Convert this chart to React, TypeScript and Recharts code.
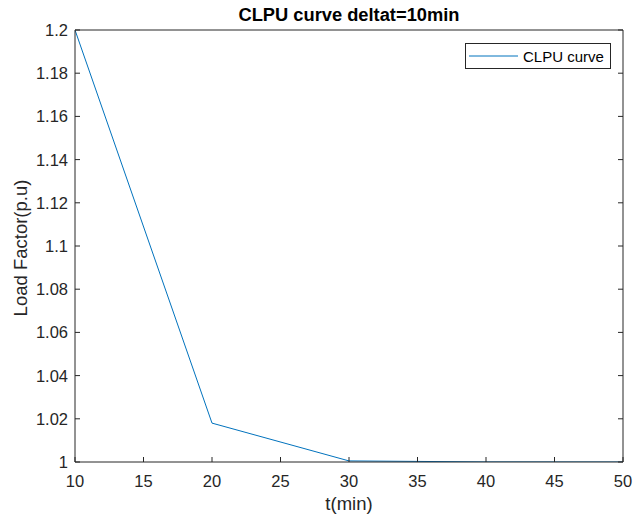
import { Legend, Line, LineChart, XAxis, YAxis } from 'recharts';

// CLPU load factor sampled every 10 minutes
const times = [10, 20, 30, 40, 50];
const loadFactor = [1.2, 1.018, 1.0005, 1.00003, 1.0];

const xTicks = [10, 15, 20, 25, 30, 35, 40, 45, 50];
const yTicks = [1, 1.02, 1.04, 1.06, 1.08, 1.1, 1.12, 1.14, 1.16, 1.18, 1.2];

const data = times.map((t, i) => ({ t, y: loadFactor[i] }));

const AXIS = '#262626';
const LINE = '#0072BD';
const FONT = '"Liberation Sans", Arial, Helvetica, sans-serif';
const TICK_LEN = 5;

const BottomTick = ({ x, y, payload }: any) => (
  <g>
    <line x1={x} y1={y} x2={x} y2={y - TICK_LEN} stroke={AXIS} />
    <text x={x} y={y + 25} textAnchor="middle" fill={AXIS} fontSize={16.5} fontFamily={FONT}>
      {payload.value}
    </text>
  </g>
);

const TopTick = ({ x, y }: any) => (
  <line x1={x} y1={y} x2={x} y2={y + TICK_LEN} stroke={AXIS} />
);

const LeftTick = ({ x, y, payload }: any) => (
  <g>
    <line x1={x} y1={y} x2={x + TICK_LEN} y2={y} stroke={AXIS} />
    <text x={x - 7} y={y + 6} textAnchor="end" fill={AXIS} fontSize={16.5} fontFamily={FONT}>
      {payload.value}
    </text>
  </g>
);

const RightTick = ({ x, y }: any) => (
  <line x1={x} y1={y} x2={x - TICK_LEN} y2={y} stroke={AXIS} />
);

const LegendBox = () => (
  <div
    style={{
      width: 146,
      height: 26,
      border: `1px solid ${AXIS}`,
      background: '#fff',
      display: 'flex',
      alignItems: 'center',
      fontFamily: FONT,
      fontSize: 15,
      color: '#000',
      boxSizing: 'border-box',
      whiteSpace: 'nowrap',
    }}
  >
    <svg width={54} height={10} style={{ marginLeft: 3, flexShrink: 0 }}>
      <line x1={0} y1={5} x2={49} y2={5} stroke={LINE} strokeWidth={1} />
    </svg>
    <span>CLPU curve</span>
  </div>
);

export default function App() {
  return (
    <div style={{ position: 'absolute', left: 0, top: 0, width: 635, height: 518, background: '#fff' }}>
      <LineChart
        width={635}
        height={518}
        data={data}
        margin={{ top: 20, right: 7, bottom: 25, left: 15 }}
      >
        <XAxis
          dataKey="t"
          type="number"
          domain={[10, 50]}
          ticks={xTicks}
          height={31}
          tickSize={0}
          tickMargin={0}
          tickLine={false}
          stroke={AXIS}
          tick={<BottomTick />}
          interval={0}
          allowDataOverflow
        />
        <XAxis
          xAxisId="top"
          orientation="top"
          type="number"
          domain={[10, 50]}
          ticks={xTicks}
          height={10}
          tickSize={0}
          tickMargin={0}
          tickLine={false}
          stroke={AXIS}
          tick={<TopTick />}
          interval={0}
          allowDataOverflow
        />
        <YAxis
          type="number"
          domain={[1, 1.2]}
          ticks={yTicks}
          width={60}
          tickSize={0}
          tickMargin={0}
          tickLine={false}
          stroke={AXIS}
          tick={<LeftTick />}
          interval={0}
          allowDataOverflow
        />
        <YAxis
          yAxisId="right"
          orientation="right"
          type="number"
          domain={[1, 1.2]}
          ticks={yTicks}
          width={5}
          tickSize={0}
          tickMargin={0}
          tickLine={false}
          stroke={AXIS}
          tick={<RightTick />}
          interval={0}
          allowDataOverflow
        />
        <Legend
          layout="vertical"
          align="center"
          verticalAlign="middle"
          wrapperStyle={{ top: 43, left: 465, width: 146 }}
          content={<LegendBox />}
        />
        <Line
          dataKey="y"
          name="CLPU curve"
          stroke={LINE}
          strokeWidth={1}
          dot={false}
          isAnimationActive={false}
        />
      </LineChart>
      <div
        style={{
          position: 'absolute',
          left: 75,
          width: 548,
          top: 4,
          textAlign: 'center',
          fontFamily: FONT,
          fontWeight: 'bold',
          fontSize: 18.3,
          color: '#000',
        }}
      >
        CLPU curve deltat=10min
      </div>
      <div
        style={{
          position: 'absolute',
          left: 75,
          width: 548,
          top: 493,
          textAlign: 'center',
          fontFamily: FONT,
          fontSize: 18.5,
          color: AXIS,
        }}
      >
        t(min)
      </div>
      <div
        style={{
          position: 'absolute',
          left: 21,
          top: 248,
          transform: 'translate(-50%, -50%) rotate(-90deg)',
          whiteSpace: 'nowrap',
          fontFamily: FONT,
          fontSize: 18.5,
          color: AXIS,
        }}
      >
        Load Factor(p.u)
      </div>
    </div>
  );
}
